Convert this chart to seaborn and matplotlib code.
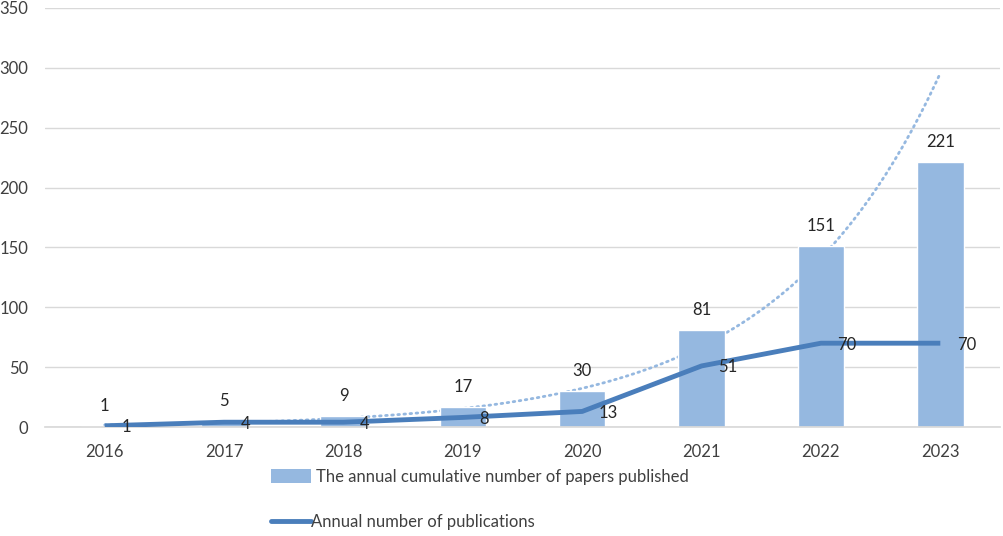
import numpy as np
import pandas as pd
import matplotlib
matplotlib.use("Agg")
import matplotlib.pyplot as plt
import seaborn as sns
from matplotlib.patches import Patch
from matplotlib.lines import Line2D

years = ["2016", "2017", "2018", "2019", "2020", "2021", "2022", "2023"]
cumulative = [1, 5, 9, 17, 30, 81, 151, 221]
annual = [1, 4, 4, 8, 13, 51, 70, 70]
bar_label = "The annual cumulative number of papers published"
line_label = "Annual number of publications"
yticks = [0, 50, 100, 150, 200, 250, 300, 350]

sns.set_theme(style="white")
plt.rcParams['font.family'] = ['Lato', 'DejaVu Sans']

BAR_C = "#95B8E0"
LINE_C = "#4A7EBB"
TXT = "#404040"
FS = 12

df = pd.DataFrame({"year": years, "cum": cumulative, "ann": annual})

fig = plt.figure(figsize=(10.04, 5.36), dpi=100)
ax = fig.add_axes([45/1004, 109/536, 955/1004, 419/536])

sns.barplot(data=df, x="year", y="cum", color=BAR_C, width=0.39,
            saturation=1, ax=ax, zorder=2)

xs = np.arange(len(years))
# exponential trendline fitted to cumulative data
coef = np.polyfit(xs, np.log(cumulative), 1)
xt = np.linspace(0, len(years) - 1, 200)
yt = np.exp(np.polyval(coef, xt))
ax.plot(xt, yt, color=BAR_C, lw=2.0, ls=(0, (0.6, 1.6)), zorder=1.5,
        dash_capstyle="round")

sns.lineplot(x=xs, y=annual, color=LINE_C, lw=3.5, ax=ax, zorder=4,
             solid_capstyle="butt")

ax.set_xlim(-0.5, len(years) - 0.5)
ax.set_ylim(0, 350)
ax.set_yticks(yticks)
ax.set_yticklabels([str(v) for v in yticks])
ax.grid(axis="y", color="#D9D9D9", lw=1, zorder=0)
ax.set_axisbelow(True)
for s in ["top", "right", "left"]:
    ax.spines[s].set_visible(False)
ax.spines["bottom"].set_color("#D9D9D9")
ax.set_xlabel("")
ax.set_ylabel("")
ax.tick_params(axis="both", length=0, labelsize=FS, labelcolor=TXT)
ax.tick_params(axis="y", pad=12)
ax.tick_params(axis="x", pad=12)

for i, v in enumerate(cumulative):
    ax.annotate(str(v), (i, v), xytext=(0, 14.5), textcoords="offset points",
                ha="center", va="center", fontsize=FS, color="#262626")

for i, v in enumerate(annual):
    ax.annotate(str(v), (i, v), xytext=(12, -1), textcoords="offset points",
                ha="left", va="center", fontsize=FS, color="#262626", zorder=5)

fig.legend(handles=[Patch(facecolor=BAR_C, edgecolor="none")], labels=[bar_label],
           loc="center left", bbox_to_anchor=(268/1004, 1 - 477/536), frameon=False,
           fontsize=FS, handlelength=2.4, handleheight=0.9, handletextpad=0.3,
           labelcolor=TXT, borderpad=0.2, borderaxespad=0)
fig.legend(handles=[Line2D([], [], color=LINE_C, lw=3.5)], labels=[line_label],
           loc="center left", bbox_to_anchor=(268/1004, 1 - 522/536), frameon=False,
           fontsize=FS, handlelength=2.4, handletextpad=0.0, labelcolor=TXT,
           borderpad=0.2, borderaxespad=0)

fig.savefig("out.png", dpi=100)
